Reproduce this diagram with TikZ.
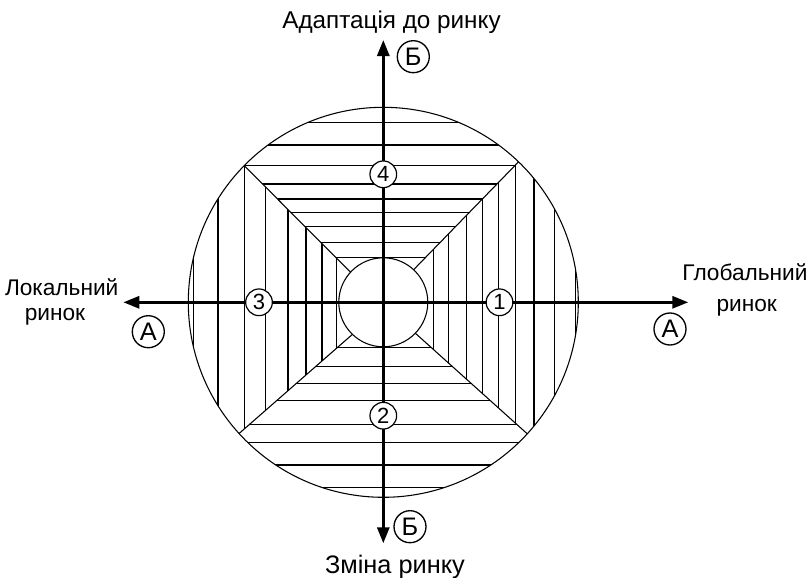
\documentclass[tikz,border=0pt]{standalone}
\usepackage{fontspec}
\setmainfont{Liberation Sans}
\usetikzlibrary{arrows.meta,calc}
\begin{document}
\begin{tikzpicture}[x=0.75pt,y=-0.75pt,
  thinl/.style={line width=0.8pt},
  axisline/.style={line width=2.2pt,{Triangle[length=12pt,width=9pt]}-{Triangle[length=12pt,width=9pt]}},
  numc/.style={circle,draw,fill=white,line width=0.9pt,inner sep=0pt,minimum size=20pt,font=\fontsize{16.5}{17}\selectfont},
  letc/.style={circle,draw,line width=1pt,inner sep=0pt,minimum size=24pt,font=\fontsize{19}{20}\selectfont},
  lab/.style={font=\fontsize{17}{19}\selectfont,anchor=base},
  toplab/.style={font=\fontsize{18.2}{20}\selectfont,anchor=base},
  biglab/.style={font=\fontsize{19}{22}\selectfont,anchor=base}
]
\useasboundingbox[fill=white] (0,0) rectangle (808,578);
\coordinate (C) at (383.3,302.3);
\coordinate (Itl) at (350,271.7);   \coordinate (Otl) at (244.3,165.7);
\coordinate (Itr) at (415,268.3);   \coordinate (Otr) at (517.7,162.7);
\coordinate (Ibr) at (417.3,335);   \coordinate (Obr) at (526.7,433.3);
\coordinate (Ibl) at (351.7,335);   \coordinate (Obl) at (240,432.7);
\coordinate (Ftl) at ($(Itl)!2!(Otl)$);
\coordinate (Ftr) at ($(Itr)!2!(Otr)$);
\coordinate (Fbr) at ($(Ibr)!2!(Obr)$);
\coordinate (Fbl) at ($(Ibl)!2!(Obl)$);
\begin{scope}
  \clip (C) circle (195);
  % top region
  \begin{scope}
    \clip (C) -- (Itl) -- (Ftl) -- (Ftr) -- (Itr) -- cycle;
    \foreach \yy in {122.7,145,165.7,184,199,212.3,226.7,242.5,257.7}
      \draw[thinl] (150,\yy) -- (620,\yy);
  \end{scope}
  % bottom region
  \begin{scope}
    \clip (C) -- (Ibr) -- (Fbr) -- (Fbl) -- (Ibl) -- cycle;
    \foreach \yy in {347.7,366.3,383.7,400.5,424.7,442.7,465,487.3}
      \draw[thinl] (150,\yy) -- (620,\yy);
  \end{scope}
  % left region
  \begin{scope}
    \clip (C) -- (Ibl) -- (Fbl) -- (Ftl) -- (Itl) -- cycle;
    \foreach \xx in {193.3,218,244.3,265.5,288,306,322,336.7}
      \draw[thinl] (\xx,90) -- (\xx,520);
  \end{scope}
  % right region
  \begin{scope}
    \clip (C) -- (Itr) -- (Ftr) -- (Fbr) -- (Ibr) -- cycle;
    \foreach \xx in {433.3,448.3,466.7,482.5,498.3,515.5,534,554.3,575.7}
      \draw[thinl] (\xx,90) -- (\xx,520);
  \end{scope}
  % diagonals
  \draw[thinl] ($(Otl)!1.15!(Itl)$) -- ($(Itl)!1.05!(Otl)$);
  \draw[thinl] ($(Otr)!1.15!(Itr)$) -- ($(Itr)!1.05!(Otr)$);
  \draw[thinl] ($(Obr)!1.15!(Ibr)$) -- ($(Ibr)!1.05!(Obr)$);
  \draw[thinl] ($(Obl)!1.15!(Ibl)$) -- ($(Ibl)!1.05!(Obl)$);
\end{scope}
\draw[thinl] (C) circle (195);
\draw[thinl,fill=white] (C) circle (44.5);
% axes
\coordinate (L) at (123.3,302.3);
\coordinate (R) at (688.3,302.3);
\coordinate (T) at (383.3,40);
\coordinate (B) at (383.3,543.3);
\draw[axisline] (L) -- (R);
\draw[axisline] (B) -- (T);
% numbered circles
\node[numc] (n1) at (499.5,302.3) {1};
\node[numc] (n2) at (383.3,415.7) {2};
\node[numc] (n3) at (259,302.3) {3};
\node[numc] (n4) at (383.3,174.3) {4};
% lettered circles
\node[letc] (aL) at (148.3,331.7) {А};
\node[letc] (aR) at (670,329) {А};
\node[letc] (bT) at (413.3,56.7) {Б};
\node[letc] (bB) at (410,526.7) {Б};
% labels
\node[toplab] (topl) at (391.5,28.3) {Адаптація до ринку};
\node[biglab] (botl) at (395,573.3) {Зміна ринку};
\node[lab] (ll1) at (61.7,295) {Локальний};
\node[lab] (ll2) at (55,320) {ринок};
\node[lab] (rl1) at (745,280.7) {Глобальний};
\node[lab] (rl2) at (746.7,311.7) {ринок};
\end{tikzpicture}
\end{document}
